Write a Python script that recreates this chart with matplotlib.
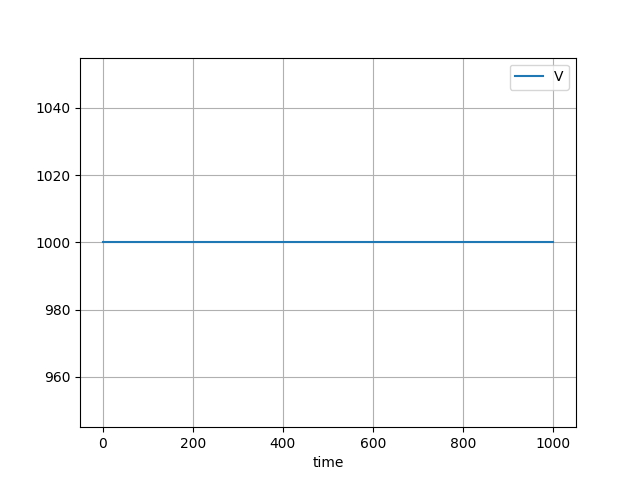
import matplotlib
matplotlib.use("Agg")
import matplotlib.pyplot as plt

# data
time = [0, 250, 500, 750, 1000]
V = [1000, 1000, 1000, 1000, 1000]

figure, axis = plt.subplots(figsize=(6.4, 4.8), dpi=100)

axis.plot(time, V, label='V')

axis.set_xlabel('time')
axis.legend(loc='upper right')
axis.grid(True)

plt.savefig('out.png')
